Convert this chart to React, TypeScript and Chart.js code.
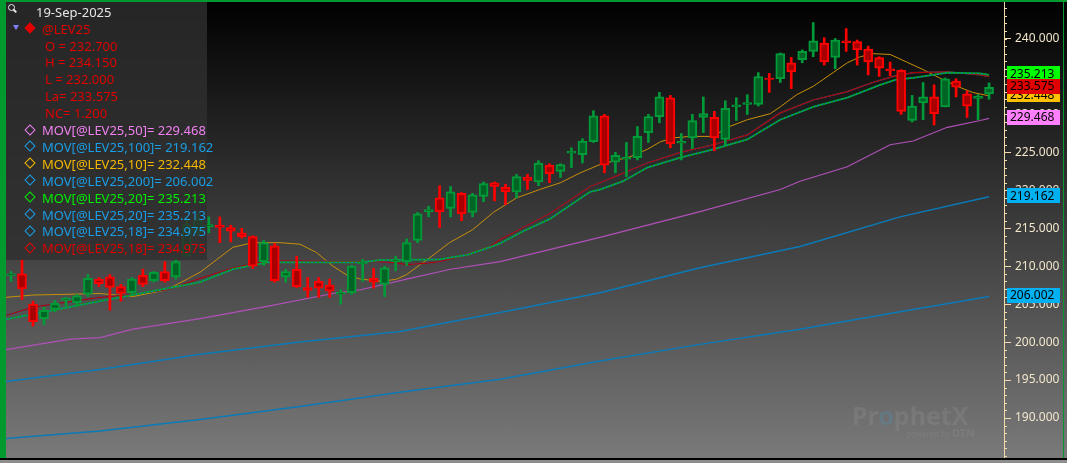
import React, { useEffect, useRef } from 'react';
import { Chart, registerables } from 'chart.js';

Chart.register(...registerables);

// ---------- candle data (daily OHLC, @LEV25) ----------
const opens = [208.8, 209.0, 205.0, 203.1, 204.3, 205.5, 205.2, 206.3, 208.3, 208.6,
  207.3, 206.5, 208.8, 208.1, 209.3, 208.6, 211.4, 214.4, 215.2, 215.4,
  215.1, 214.4, 213.9, 210.6, 212.7, 208.6, 209.6, 207.2, 208.0, 207.5,
  206.3, 206.5, 210.3, 208.4, 207.6, 210.6, 210.6, 213.4, 217.2, 219.0,
  217.6, 219.6, 217.1, 219.2, 221.0, 220.4, 219.8, 221.7, 221.1, 223.3,
  222.5, 224.9, 224.7, 226.4, 229.8, 223.7, 224.1, 224.3, 227.6, 229.7,
  232.2, 226.2, 226.9, 229.6, 229.6, 226.7, 231.0, 231.3, 231.3, 234.8,
  234.7, 236.8, 237.2, 238.3, 239.4, 237.5, 239.7, 239.6, 238.6, 237.5,
  236.0, 235.8, 229.2, 231.5, 232.3, 231.0, 234.4, 232.7, 232.1, 232.7];
const highs = [209.3, 210.9, 205.4, 204.6, 205.5, 205.9, 206.3, 208.9, 208.5, 208.9,
  207.6, 208.5, 209.6, 209.3, 210.6, 211.1, 216.4, 217.1, 216.5, 216.5,
  215.4, 215.0, 214.0, 213.4, 213.0, 209.6, 211.3, 208.5, 208.5, 208.3,
  206.9, 210.1, 210.9, 209.7, 210.0, 211.3, 213.6, 217.1, 217.9, 220.6,
  220.5, 219.7, 219.6, 221.1, 221.1, 220.8, 222.1, 222.1, 223.9, 223.5,
  223.5, 225.6, 226.8, 230.5, 230.0, 225.0, 226.3, 228.4, 230.0, 232.9,
  232.5, 227.5, 230.0, 232.3, 230.4, 231.8, 232.2, 232.6, 235.5, 235.4,
  238.1, 237.5, 238.5, 242.1, 240.1, 240.0, 241.3, 239.8, 239.0, 237.6,
  236.9, 235.9, 232.5, 234.2, 233.9, 234.8, 234.7, 233.1, 232.6, 234.15];
const lows = [208.0, 205.6, 202.1, 202.3, 204.0, 204.7, 204.7, 206.0, 207.3, 204.2,
  205.4, 206.3, 207.3, 207.9, 207.9, 208.3, 211.1, 214.0, 214.4, 213.1,
  213.2, 213.7, 209.7, 210.1, 207.9, 207.9, 207.2, 205.9, 205.9, 205.9,
  205.0, 206.3, 208.0, 207.1, 206.0, 209.4, 210.1, 213.1, 216.5, 215.1,
  216.5, 216.0, 216.5, 218.5, 218.6, 218.1, 219.0, 220.1, 220.6, 221.0,
  221.7, 223.0, 223.6, 226.3, 222.3, 222.3, 221.8, 224.0, 226.3, 228.9,
  225.6, 224.0, 225.5, 227.6, 225.2, 226.0, 229.2, 230.0, 231.1, 232.9,
  234.2, 233.4, 236.8, 237.6, 236.5, 236.0, 238.3, 236.5, 235.2, 235.0,
  235.1, 230.0, 229.0, 229.3, 228.6, 231.0, 232.3, 229.6, 229.3, 232.0];
const closes = [209.0, 207.0, 202.7, 204.2, 205.1, 205.8, 206.1, 208.4, 207.7, 207.2,
  206.4, 208.3, 207.6, 209.2, 208.1, 210.6, 215.5, 216.1, 215.5, 215.1,
  214.6, 213.9, 210.0, 213.1, 208.1, 209.3, 207.3, 206.8, 207.1, 206.7,
  206.55, 210.0, 210.55, 207.9, 209.8, 210.85, 213.1, 216.9, 217.45, 217.2,
  219.8, 216.9, 219.4, 220.9, 220.5, 219.8, 221.8, 221.3, 223.6, 222.2,
  223.4, 225.15, 226.5, 229.8, 223.3, 224.6, 224.35, 227.1, 229.7, 232.3,
  226.1, 226.45, 229.2, 230.1, 226.9, 230.8, 231.25, 231.55, 235.0, 234.6,
  238.0, 235.6, 238.3, 239.7, 236.9, 239.8, 239.45, 238.5, 236.9, 236.1,
  235.75, 230.4, 231.1, 232.3, 230.1, 234.7, 233.6, 231.1, 232.4, 233.575];

// ---------- moving averages (bar index, value) ----------
const ma10Idx = [-0.45, 2, 5.1, 8.1, 11.1, 14.2, 17.2, 20.2, 22, 24.5, 26.3, 27.8, 29.3, 30.6, 31.8, 33.8, 35.1, 36, 37.9, 39.9,
  42, 43.9, 46, 48.1, 50, 51.8, 53.6, 56.3, 57.9, 59.1, 60.2, 61.8, 63.9, 65.2, 67, 69.1, 70, 71.5, 73, 74.8,
  76.1, 77.3, 78.4, 80, 81.5, 83, 84.5, 86.1, 87.5, 89];
const ma10Val = [205.9, 206.2, 206.3, 206.4, 206.0, 206.9, 209.2, 212.5, 213.1, 213.1, 212.9, 211.8, 210.0, 208.8, 208.3, 208.0, 208.3, 208.9, 210.9, 213.1,
  214.8, 217.1, 219.0, 220.1, 221.0, 222.3, 223.4, 224.4, 225.4, 226.4, 226.9, 227.1, 227.1, 228.3, 229.3, 230.1, 231.0, 232.6, 233.7, 235.5,
  236.8, 237.6, 238.0, 237.9, 236.9, 235.9, 234.8, 233.7, 232.9, 232.448];

const ma18Idx = [-0.45, 2, 8.1, 11.1, 14.2, 17.2, 20.2, 23.3, 26.3, 30.9, 32.9, 34.8, 36, 37.9, 39, 41.1, 43.6, 44.5, 46.6, 49,
  52.7, 53.6, 54.8, 57.9, 60.9, 63.9, 67, 70, 73, 76.1, 78.4, 80.3, 82.1, 85.2, 88.2, 89];
const ma18Val = [203.5, 204.6, 205.9, 206.3, 206.9, 208.4, 209.8, 210.7, 210.7, 210.6, 210.6, 210.5, 210.2, 210.4, 210.6, 211.4, 212.6, 213.5, 215.1, 216.9,
  220.5, 221.0, 221.7, 223.6, 225.0, 226.0, 227.3, 230.2, 231.9, 233.0, 234.2, 235.0, 235.5, 235.6, 235.2, 234.975];

const ma20Idx = [-0.45, 8.1, 17.2, 20.2, 23.3, 31.8, 33.6, 39, 41.5, 43.6, 44.5, 46.6, 49, 52.7, 53.6, 55.7, 57.9, 60.9, 63.9, 67,
  70, 73, 76.1, 79.1, 80.6, 82.1, 85.2, 88.2, 89];
const ma20Val = [203.0, 205.4, 207.9, 209.6, 210.5, 210.5, 210.8, 210.9, 211.5, 212.5, 213.0, 214.6, 216.2, 219.8, 220.1, 221.2, 223.0, 224.3, 225.4, 226.7,
  229.3, 231.0, 232.2, 233.9, 234.6, 234.8, 235.5, 235.4, 235.213];

const ma50Idx = [-0.45, 5.4, 8.1, 11.1, 17.2, 23.3, 29.3, 31.8, 36, 40, 44.5, 53.6, 62.7, 70, 71.8, 76.1, 80, 82.1, 85.2, 88.2, 89];
const ma50Val = [199.0, 200.4, 200.6, 201.7, 203.1, 204.7, 206.4, 206.9, 208.3, 209.6, 210.6, 213.8, 217.2, 220.1, 221.2, 223.1, 226.0, 226.5, 228.3, 229.2, 229.468];

const ma100Idx = [-0.45, 8.1, 17.2, 26.3, 35.4, 44.5, 53.6, 62.7, 71.8, 80.9, 89];
const ma100Val = [194.8, 196.4, 198.4, 200.0, 201.4, 203.9, 206.5, 209.8, 212.6, 216.5, 219.162];

const ma200Idx = [-0.45, 8.1, 17.2, 26.3, 35.4, 44.5, 53.6, 62.7, 71.8, 80.9, 89];
const ma200Val = [187.3, 188.3, 189.8, 191.5, 193.4, 195.1, 197.5, 199.7, 201.7, 204.0, 206.002];

// ---------- axis / legend text ----------
const yTicks = [190, 195, 200, 205, 210, 215, 220, 225, 230, 235, 240];
const Y_MIN = 184.73;
const Y_MAX = 244.81;
const X_MIN = -0.455;
const X_MAX = 90.36;
const legendDate = '19-Sep-2025';
const symbol = '@LEV25';
const netChange = 1.2;

const last = (a: number[]) => a[a.length - 1];

const studies = [
  { name: 'MOV[@LEV25,50]', value: last(ma50Val), color: '#f080f0' },
  { name: 'MOV[@LEV25,100]', value: last(ma100Val), color: '#1a9ee6' },
  { name: 'MOV[@LEV25,10]', value: last(ma10Val), color: '#f5b800' },
  { name: 'MOV[@LEV25,200]', value: last(ma200Val), color: '#1a9ee6' },
  { name: 'MOV[@LEV25,20]', value: last(ma20Val), color: '#00ee00' },
  { name: 'MOV[@LEV25,20]', value: last(ma20Val), color: '#1a9ee6' },
  { name: 'MOV[@LEV25,18]', value: last(ma18Val), color: '#1a9ee6' },
  { name: 'MOV[@LEV25,18]', value: last(ma18Val), color: '#e00000' },
];

const markerValues = [last(ma200Val), last(ma100Val), last(ma50Val), last(ma20Val), last(ma10Val), last(closes)];
const markerColors = ['#00b0f0', '#00b0f0', '#ff80ff', '#00ff00', '#ffc000', '#e00000'];

const FONT = '"Noto Sans", "DejaVu Sans", sans-serif';
const AXIS_C = '#f0dca8';

const minorTicksPlugin = {
  id: 'minorTicks',
  afterDraw(chart: any) {
    const s = chart.scales.y;
    const c = chart.ctx;
    c.save();
    c.strokeStyle = AXIS_C;
    c.lineWidth = 1;
    for (let v = Math.ceil(s.min); v <= s.max; v++) {
      const py = Math.round(s.getPixelForValue(v)) + 0.5;
      c.beginPath();
      c.moveTo(s.left, py);
      c.lineTo(s.left + 3, py);
      c.stroke();
    }
    c.restore();
  },
};

const markersPlugin = {
  id: 'markers',
  afterDraw(chart: any) {
    const s = chart.scales.y;
    const c = chart.ctx;
    c.save();
    c.font = '12px ' + FONT;
    c.textBaseline = 'middle';
    c.textAlign = 'left';
    markerValues.forEach((v, i) => {
      const py = s.getPixelForValue(v) - 1;
      c.fillStyle = markerColors[i];
      c.fillRect(s.left + 3, Math.round(py - 7.5), 53, 15);
      c.fillStyle = '#000';
      c.fillText(v.toFixed(3), s.left + 6, py + 0.5);
    });
    c.restore();
  },
};

function ChartCanvas() {
  const ref = useRef<HTMLCanvasElement>(null);
  useEffect(() => {
    const idx = opens.map((_, i) => i);
    const up = idx.map((i) => closes[i] >= opens[i]);
    const G_B = '#009a38', G_F = '#006424', R_B = '#ff0000', R_F = '#a80000';
    const line = (xs: number[], ys: number[], color: string, width: number, order: number, dash?: number[]) => ({
      type: 'line',
      data: xs.map((x, i) => ({ x, y: ys[i] })),
      borderColor: color,
      borderWidth: width,
      borderDash: dash || [],
      pointRadius: 0,
      tension: 0,
      fill: false,
      order,
      clip: 0,
    });
    const chart = new Chart(ref.current as HTMLCanvasElement, {
      type: 'bar',
      data: {
        datasets: [
          {
            type: 'bar',
            data: idx.map((i) => ({ x: i, y: [opens[i], closes[i]] })),
            backgroundColor: up.map((u) => (u ? G_F : R_F)),
            borderColor: up.map((u) => (u ? G_B : R_B)),
            borderWidth: 2,
            borderSkipped: false,
            barThickness: 9,
            grouped: false,
            order: 1,
            clip: 0,
          },
          {
            type: 'bar',
            data: idx.map((i) => ({ x: i, y: [lows[i], highs[i]] })),
            backgroundColor: up.map((u) => (u ? G_B : R_B)),
            borderWidth: 0,
            barThickness: 2,
            grouped: false,
            order: 2,
            clip: 0,
          },
          line(ma200Idx, ma200Val, '#0a7ab8', 1.5, 30),
          line(ma100Idx, ma100Val, '#0a7ab8', 1.5, 29),
          line(ma50Idx, ma50Val, '#b050b8', 1.2, 28),
          line(ma10Idx, ma10Val, '#c8900a', 1, 27),
          line(ma18Idx, ma18Val, '#0a78c0', 1.2, 26),
          line(ma18Idx, ma18Val, '#b00000', 1.2, 25),
          line(ma20Idx, ma20Val, '#00a820', 1.8, 24),
          line(ma20Idx, ma20Val, '#0a78c0', 1.3, 23, [1.5, 2.5]),
        ] as any,
      },
      options: {
        responsive: false,
        animation: false,
        events: [],
        layout: { padding: { left: 6, top: 2, right: 0, bottom: 5 } },
        plugins: { legend: { display: false }, tooltip: { enabled: false } },
        scales: {
          x: { type: 'linear', min: X_MIN, max: X_MAX, display: false, offset: false },
          y: {
            position: 'right',
            min: Y_MIN,
            max: Y_MAX,
            afterFit: (s: any) => {
              s.width = 63;
              s.paddingTop = 0;
              s.paddingBottom = 0;
            },
            afterBuildTicks: (s: any) => {
              s.ticks = yTicks.map((v) => ({ value: v }));
            },
            ticks: {
              callback: (v: any) => Number(v).toFixed(3),
              color: '#f2e6cc',
              font: { family: FONT, size: 12 },
              padding: 4,
            },
            grid: { drawOnChartArea: false, drawTicks: true, tickLength: 7, tickColor: AXIS_C, tickWidth: 1 },
            border: { display: true, color: AXIS_C, width: 1 },
          },
        },
      } as any,
      plugins: [minorTicksPlugin, markersPlugin],
    });
    return () => chart.destroy();
  }, []);
  return <canvas ref={ref} width={1067} height={463} style={{ position: 'absolute', left: 0, top: 0, display: 'block' }} />;
}

const ROW0 = 45.5;
const ROW_H = 16.9;

function Legend() {
  const red = '#e00000';
  const rowTop = (k: number) => ROW0 + ROW_H * k - 2 - 9;
  const quotes = [
    `O = ${last(opens).toFixed(3)}`,
    `H = ${last(highs).toFixed(3)}`,
    `L = ${last(lows).toFixed(3)}`,
    `La= ${last(closes).toFixed(3)}`,
    `NC= ${netChange.toFixed(3)}`,
  ];
  const txt = (left: number, top: number, color: string, s: string, key: string) => (
    <div key={key} style={{ position: 'absolute', left: left - 6, top, color, fontSize: 13, lineHeight: '18px', whiteSpace: 'nowrap' }}>{s}</div>
  );
  return (
    <div style={{ position: 'absolute', left: 6, top: 2, width: 201, height: 258, background: 'rgba(47,47,47,0.81)', fontFamily: FONT, zIndex: 2 }}>
      {/* magnifier */}
      <div style={{ position: 'absolute', left: 2, top: 2, width: 5, height: 5, border: '1px solid #e8e8e8', borderRadius: '50%' }} />
      <div style={{ position: 'absolute', left: 7, top: 8, width: 4, height: 1.5, background: '#e8e8e8', transform: 'rotate(45deg)' }} />
      {txt(36, 12 - 2 - 9, '#e6e6e6', legendDate, 'date')}
      {/* triangle */}
      <div style={{ position: 'absolute', left: 7, top: 23, width: 0, height: 0, borderLeft: '3px solid transparent', borderRight: '3px solid transparent', borderTop: '5px solid #8080ff' }} />
      <div style={{ position: 'absolute', left: 20, top: 22, width: 8, height: 8, background: red, transform: 'rotate(45deg)' }} />
      {txt(42, 29 - 2 - 9, red, symbol, 'sym')}
      {quotes.map((q, k) => txt(45, rowTop(k), red, q, 'q' + k))}
      {studies.map((s, k) => (
        <React.Fragment key={'s' + k}>
          <div style={{ position: 'absolute', left: 20, top: ROW0 + ROW_H * (k + 5) - 2 - 4.5, width: 8, height: 8, border: `1.5px solid ${s.color}`, transform: 'rotate(45deg)', boxSizing: 'border-box' }} />
          {txt(42, rowTop(k + 5), s.color, `${s.name}= ${s.value.toFixed(3)}`, 'st' + k)}
        </React.Fragment>
      ))}
    </div>
  );
}

export default function App() {
  useEffect(() => {
    document.body.style.margin = '0';
  }, []);
  return (
    <div style={{ position: 'fixed', left: 0, top: 0, width: 1067, height: 463, overflow: 'hidden', background: 'linear-gradient(#000000 0px, #7a7a7a 460px)', fontFamily: FONT }}>
      <ChartCanvas />
      <Legend />
      {/* watermark */}
      <div style={{ position: 'absolute', left: 852, top: 400, fontSize: 25, fontWeight: 700, color: 'rgba(255,255,255,0.07)', lineHeight: '30px', letterSpacing: 0 }}>
        Pr<span style={{ color: 'rgba(80,140,170,0.35)' }}>o</span>phetX
      </div>
      <div style={{ position: 'absolute', left: 906, top: 428, fontSize: 8, color: 'rgba(255,255,255,0.07)', lineHeight: '10px', whiteSpace: 'nowrap' }}>
        powered by <span style={{ fontSize: 11, fontWeight: 700 }}>DTN</span>
      </div>
      {/* frame */}
      <div style={{ position: 'absolute', left: 0, top: 0, width: 6, height: 458, background: '#009a2e', zIndex: 3 }} />
      <div style={{ position: 'absolute', left: 0, top: 0, width: 1067, height: 2, background: '#009a2e', zIndex: 3 }} />
      <div style={{ position: 'absolute', left: 1063, top: 0, width: 1, height: 458, background: '#009a2e', zIndex: 3 }} />
      <div style={{ position: 'absolute', left: 0, top: 458, width: 1067, height: 2, background: '#000', zIndex: 3 }} />
      <div style={{ position: 'absolute', left: 0, top: 460, width: 1067, height: 3, background: '#8e8e8e', zIndex: 3 }} />
    </div>
  );
}
